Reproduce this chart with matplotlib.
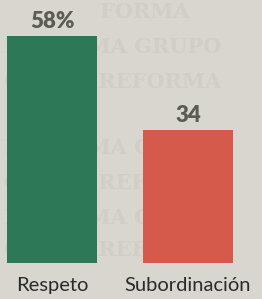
import matplotlib
matplotlib.use("Agg")
import matplotlib.pyplot as plt

# Datos
categorias = ["Respeto", "Subordinación"]
valores = [58, 34]
etiquetas = ["58%", "34"]
colores = ["#2d7857", "#d55a4b"]

W, H = 262, 299
fig = plt.figure(figsize=(W / 100, H / 100), dpi=100)
fig.patch.set_facecolor("#d8d6cf")

# marca de agua tenue del fondo
filas = [(12, 100, "FORMA"), (47, 4, "REFORMA GRUPO"), (82, 4, "GRUPO REFORMA"),
         (148, 4, "REFORMA GRUPO"), (183, 4, "GRUPO REFORMA"),
         (218, 4, "REFORMA GRUPO"), (250, 4, "GRUPO REFORMA")]
for y_px, x_px, fila in filas:
    fig.text(x_px / W, 1 - y_px / H, fila, fontsize=15, family="DejaVu Serif",
             fontweight="bold", color="#d0cec6", va="center", ha="left",
             zorder=-5)

# ejes en coordenadas de pixel de la imagen
bottom_px, top_px = 263, 36
ax = fig.add_axes([0, 1 - bottom_px / H, 1, (bottom_px - top_px) / H])
ax.patch.set_alpha(0)

x = [0, 1]
ax.bar(x, valores, width=0.655, color=colores)
ax.set_ylim(0, 58)
ax.set_xlim(-52 / 136, (W - 52) / 136)

for xi, v, t in zip(x, valores, etiquetas):
    ax.annotate(t, (xi, v), xytext=(0, 3), textcoords="offset points",
                ha="center", va="bottom", fontsize=16, fontweight="heavy",
                family="Lato", color="#5b5d52")

ax.set_xticks(x)
ax.set_xticklabels(categorias, fontsize=14.5, family="Lato", color="#2b2b2b")
ax.tick_params(axis="x", length=0, pad=10)
ax.set_yticks([])
for s in ax.spines.values():
    s.set_visible(False)

fig.savefig("out.png", dpi=100, facecolor=fig.get_facecolor())
